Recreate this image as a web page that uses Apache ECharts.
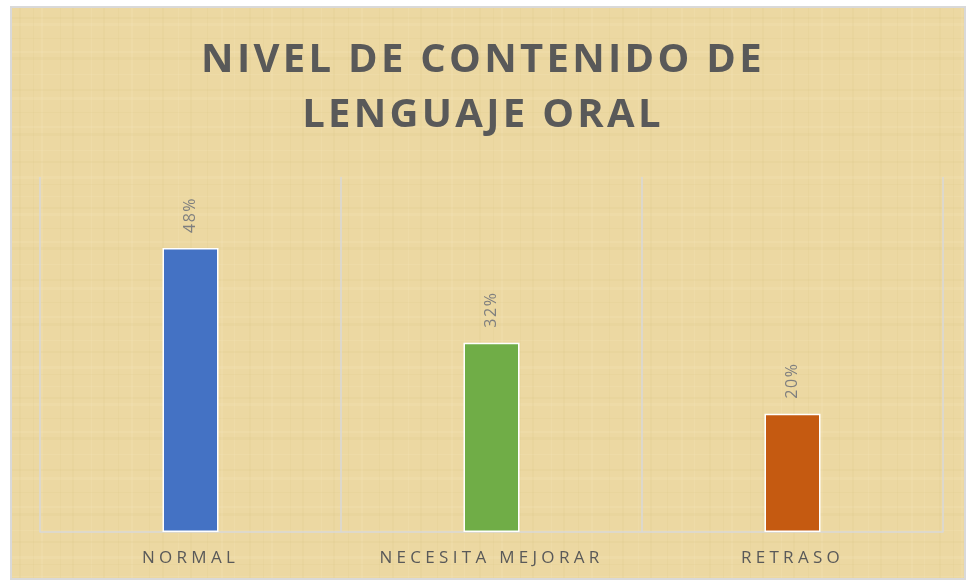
<!DOCTYPE html>
<html>
<head>
<meta charset="utf-8">
<script src="https://cdn.jsdelivr.net/npm/echarts@6/dist/echarts.min.js"></script>
<style>
  html, body { margin: 0; padding: 0; background: #ffffff; }
  #container { width: 966px; height: 582px; }
</style>
</head>
<body>
<div id="container"></div>
<script>
var categories = ['NORMAL', 'NECESITA MEJORAR', 'RETRASO'];
var values = [48, 32, 20];
var barColors = ['#4472C4', '#70AD47', '#C55A11'];

// letter spacing (px) per font size, the original has spaced-out text
var spacingBySize = {40: 3.3, 17: 4.3, 16: 1.5};
var origFillText = CanvasRenderingContext2D.prototype.fillText;
CanvasRenderingContext2D.prototype.fillText = function (t, x, y, w) {
    var m = /(\d+(?:\.\d+)?)px/.exec(this.font);
    var size = m ? Math.round(+m[1]) : 12;
    if ('letterSpacing' in this) {
        this.letterSpacing = (spacingBySize[size] || 0) + 'px';
    }
    if (w === undefined) {
        origFillText.call(this, t, x, y);
    } else {
        origFillText.call(this, t, x, y, w);
    }
    if ('letterSpacing' in this) {
        this.letterSpacing = '0px';
    }
};

// papyrus-like texture
function makePaper() {
    var c = document.createElement('canvas');
    c.width = 230;
    c.height = 190;
    var g = c.getContext('2d');
    g.fillStyle = '#ecd8a2';
    g.fillRect(0, 0, 230, 190);
    var hs = [6, 17, 23, 38, 51, 57, 74, 89, 97, 112, 126, 133, 150, 161, 176, 184];
    var vs = [4, 19, 33, 41, 60, 72, 91, 103, 118, 131, 149, 162, 178, 190, 207, 221];
    for (var i = 0; i < hs.length; i++) {
        g.fillStyle = i % 2 ? 'rgba(185,150,80,0.05)' : 'rgba(255,246,220,0.10)';
        g.fillRect(0, hs[i], 230, 1 + (i % 3));
        g.fillStyle = i % 3 ? 'rgba(185,150,80,0.05)' : 'rgba(255,246,220,0.10)';
        g.fillRect(vs[i], 0, 1 + (i % 2), 190);
    }
    return c;
}

var dom = document.getElementById('container');
var myChart = echarts.init(dom, null, {renderer: 'canvas'});

var option = {
    animation: false,
    backgroundColor: '#ffffff',
    graphic: [{
        type: 'rect',
        z: -10,
        shape: {x: 11, y: 7, width: 954, height: 572},
        style: {
            fill: {image: makePaper(), repeat: 'repeat'},
            stroke: '#d9d9d9',
            lineWidth: 2
        }
    }],
    title: {
        text: 'NIVEL DE CONTENIDO DE\nLENGUAJE ORAL',
        left: 'center',
        top: 28,
        textStyle: {
            fontFamily: 'Open Sans',
            fontWeight: 'bold',
            fontSize: 40,
            lineHeight: 55,
            color: '#595959'
        }
    },
    grid: {
        left: 40,
        right: 23,
        top: 177,
        bottom: 50
    },
    xAxis: {
        type: 'category',
        data: categories,
        axisLine: {lineStyle: {color: '#d9d9d9', width: 1.5}},
        axisTick: {show: false},
        splitLine: {show: true, lineStyle: {color: '#d9d9d9', width: 1.5}},
        axisLabel: {
            color: '#595959',
            fontFamily: 'Open Sans',
            fontSize: 17,
            margin: 18
        }
    },
    yAxis: {
        type: 'value',
        min: 0,
        max: 60,
        show: false,
        splitLine: {show: false}
    },
    series: [{
        type: 'bar',
        barWidth: 56,
        data: values.map(function (v, i) {
            return {value: v, itemStyle: {color: barColors[i]}};
        }),
        itemStyle: {borderColor: '#ffffff', borderWidth: 1.5},
        label: {
            show: true,
            position: 'top',
            rotate: 90,
            align: 'left',
            verticalAlign: 'middle',
            distance: 15,
            color: '#7f7f7f',
            fontFamily: 'Open Sans',
            fontSize: 16,
            formatter: '{c}%'
        }
    }]
};

myChart.setOption(option);
</script>
</body>
</html>
